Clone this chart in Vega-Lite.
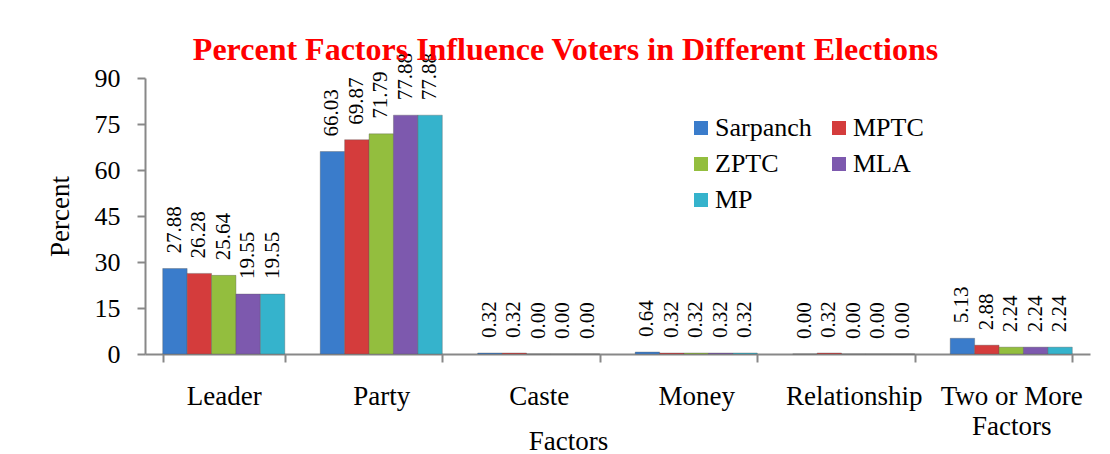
{
  "$schema": "https://vega.github.io/schema/vega-lite/v6.json",
  "autosize": "none",
  "width": 945,
  "height": 276,
  "padding": {"left": 145, "top": 78, "right": 20, "bottom": 100},
  "background": "white",
  "title": {
    "text": "Percent Factors Influence Voters in Different Elections",
    "font": "Liberation Serif",
    "fontSize": 32,
    "fontWeight": "bold",
    "color": "#FF0000",
    "anchor": "middle",
    "dx": -52,
    "offset": -14
  },
  "data": {
    "values": [
      {"factor": "Leader", "election": "Sarpanch", "value": 27.88},
      {"factor": "Leader", "election": "MPTC", "value": 26.28},
      {"factor": "Leader", "election": "ZPTC", "value": 25.64},
      {"factor": "Leader", "election": "MLA", "value": 19.55},
      {"factor": "Leader", "election": "MP", "value": 19.55},
      {"factor": "Party", "election": "Sarpanch", "value": 66.03},
      {"factor": "Party", "election": "MPTC", "value": 69.87},
      {"factor": "Party", "election": "ZPTC", "value": 71.79},
      {"factor": "Party", "election": "MLA", "value": 77.88},
      {"factor": "Party", "election": "MP", "value": 77.88},
      {"factor": "Caste", "election": "Sarpanch", "value": 0.32},
      {"factor": "Caste", "election": "MPTC", "value": 0.32},
      {"factor": "Caste", "election": "ZPTC", "value": 0.0},
      {"factor": "Caste", "election": "MLA", "value": 0.0},
      {"factor": "Caste", "election": "MP", "value": 0.0},
      {"factor": "Money", "election": "Sarpanch", "value": 0.64},
      {"factor": "Money", "election": "MPTC", "value": 0.32},
      {"factor": "Money", "election": "ZPTC", "value": 0.32},
      {"factor": "Money", "election": "MLA", "value": 0.32},
      {"factor": "Money", "election": "MP", "value": 0.32},
      {"factor": "Relationship", "election": "Sarpanch", "value": 0.0},
      {"factor": "Relationship", "election": "MPTC", "value": 0.32},
      {"factor": "Relationship", "election": "ZPTC", "value": 0.0},
      {"factor": "Relationship", "election": "MLA", "value": 0.0},
      {"factor": "Relationship", "election": "MP", "value": 0.0},
      {"factor": "Two or More Factors", "election": "Sarpanch", "value": 5.13},
      {"factor": "Two or More Factors", "election": "MPTC", "value": 2.88},
      {"factor": "Two or More Factors", "election": "ZPTC", "value": 2.24},
      {"factor": "Two or More Factors", "election": "MLA", "value": 2.24},
      {"factor": "Two or More Factors", "election": "MP", "value": 2.24}
    ]
  },
  "encoding": {
    "x": {
      "field": "factor",
      "type": "nominal",
      "sort": ["Leader", "Party", "Caste", "Money", "Relationship", "Two or More Factors"],
      "scale": {"paddingInner": 0.225, "paddingOuter": 0.1125},
      "axis": {
        "title": "Factors",
        "labelAngle": 0,
        "tickBand": "extent",
        "labelExpr": "datum.label == 'Two or More Factors' ? ['Two or More', 'Factors'] : datum.label",
        "labelPadding": 21,
        "labelLineHeight": 30,
        "labelFontSize": 27,
        "tickSize": 8,
        "titleX": 423,
        "titleY": 87,
        "titleAlign": "center",
        "titleBaseline": "middle"
      }
    },
    "xOffset": {
      "field": "election",
      "type": "nominal",
      "sort": ["Sarpanch", "MPTC", "ZPTC", "MLA", "MP"],
      "scale": {"paddingInner": 0}
    },
    "y": {
      "field": "value",
      "type": "quantitative",
      "scale": {"domain": [0, 90]},
      "axis": {
        "title": "Percent",
        "values": [0, 15, 30, 45, 60, 75, 90],
        "grid": false,
        "tickSize": 8,
        "labelPadding": 17,
        "labelFontSize": 26,
        "titlePadding": 20
      }
    }
  },
  "layer": [
    {
      "mark": {"type": "bar", "stroke": "#555555", "strokeOpacity": 0.35, "strokeWidth": 1},
      "encoding": {
        "color": {
          "field": "election",
          "type": "nominal",
          "sort": ["Sarpanch", "MPTC", "ZPTC", "MLA", "MP"],
          "scale": {
            "domain": ["Sarpanch", "MPTC", "ZPTC", "MLA", "MP"],
            "range": ["#3A7CCB", "#D43C3C", "#93BE3E", "#7D59AE", "#35B3CC"]
          },
          "legend": {
            "title": null,
            "orient": "none",
            "legendX": 543,
            "legendY": 37,
            "direction": "horizontal",
            "columns": 2,
            "symbolType": "square",
            "symbolSize": 196,
            "symbolStrokeWidth": 0,
            "labelFont": "Liberation Serif",
            "labelFontSize": 26,
            "labelColor": "black",
            "rowPadding": 10,
            "columnPadding": 14,
            "labelOffset": 1
          }
        }
      }
    },
    {
      "mark": {
        "type": "text",
        "angle": 270,
        "align": "left",
        "baseline": "middle",
        "dx": 15,
        "font": "Liberation Serif",
        "fontSize": 21,
        "color": "black"
      },
      "encoding": {
        "text": {"field": "value", "type": "quantitative", "format": ".2f"}
      }
    }
  ],
  "config": {
    "view": {"stroke": null},
    "axis": {
      "labelFont": "Liberation Serif",
      "labelColor": "black",
      "titleFont": "Liberation Serif",
      "titleFontSize": 27,
      "titleFontWeight": "normal",
      "titleColor": "black",
      "domainColor": "#888888",
      "domainWidth": 2,
      "tickColor": "#888888",
      "tickWidth": 2
    }
  }
}
